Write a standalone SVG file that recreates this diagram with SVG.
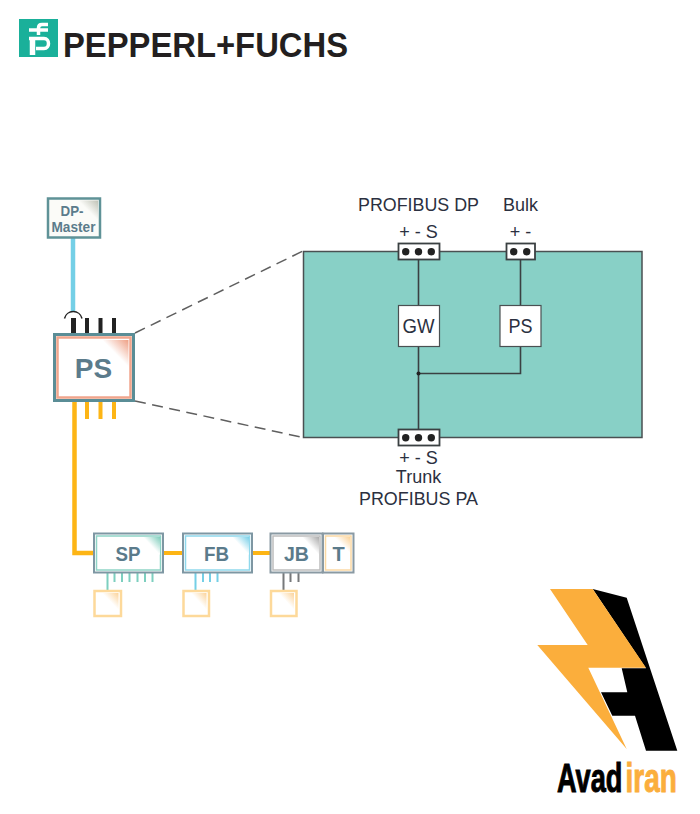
<svg xmlns="http://www.w3.org/2000/svg" width="700" height="814" viewBox="0 0 700 814">
<style>
text{font-family:"Liberation Sans",Arial,sans-serif}
.lbl{font-size:18px;fill:#2b3040;text-anchor:middle}
.blk{font-size:20px;fill:#2b3040;text-anchor:middle}
.nt{font-weight:bold;fill:#5b7b8b;text-anchor:middle}
.w{stroke:#3a4042;stroke-width:1.600;fill:none}
.pin{stroke:#222;stroke-width:4;fill:none}
.pinm{stroke:#222;stroke-width:5;fill:none}
.or{stroke:#fdb515;stroke-width:4;fill:none}
.orm{stroke:#fdb515;stroke-width:4.500;fill:none}
.term{fill:#fff;stroke:#3a4042;stroke-width:1.800}
.dot{fill:#222}
.bx{fill:#fff;stroke:#4a5052;stroke-width:1.200}
.sm{fill:#fff;stroke:#fdd99a;stroke-width:2.500}
</style>
<defs>
<linearGradient id="gP" x1="1" y1="0" x2="0.5" y2="0.5"><stop offset="0" stop-color="#ee9f84"/><stop offset="1" stop-color="#fff"/></linearGradient>
<linearGradient id="gT" x1="1" y1="0" x2="0.5" y2="0.5"><stop offset="0" stop-color="#7fcdbc"/><stop offset="1" stop-color="#fff"/></linearGradient>
<linearGradient id="gB" x1="1" y1="0" x2="0.5" y2="0.5"><stop offset="0" stop-color="#78cfe8"/><stop offset="1" stop-color="#fff"/></linearGradient>
<linearGradient id="gG" x1="1" y1="0" x2="0.5" y2="0.5"><stop offset="0" stop-color="#aaa"/><stop offset="1" stop-color="#fff"/></linearGradient>
<linearGradient id="gY" x1="1" y1="0" x2="0.5" y2="0.5"><stop offset="0" stop-color="#fbd39a"/><stop offset="1" stop-color="#fff"/></linearGradient>
<linearGradient id="gD" x1="1" y1="0" x2="0.5" y2="0.5"><stop offset="0" stop-color="#bfc2b6"/><stop offset="1" stop-color="#fbfbf8"/></linearGradient>
</defs>
<rect width="700" height="814" fill="#fff"/>

<g id="pf-logo">
<rect x="19" y="19" width="39" height="38" fill="#1ab09a"/>
<path d="M48 24.500H42C39.500 24.500 38.500 26 38.500 28V35" fill="none" stroke="#fff" stroke-width="3.500"/>
<path d="M29 30H48" fill="none" stroke="#fff" stroke-width="3.500"/>
<path d="M29 38.500H44C50 38.500 50 48.500 44 48.500H36" fill="none" stroke="#fff" stroke-width="3.500"/>
<path d="M32.500 37V55" fill="none" stroke="#fff" stroke-width="5.500"/>
<text x="63" y="57" font-size="35" font-weight="bold" fill="#231f20" textLength="285" lengthAdjust="spacingAndGlyphs">PEPPERL+FUCHS</text>
</g>

<g id="connectors">
<path d="M73 238V312" stroke="#74cfe6" stroke-width="4.500" fill="none"/>
<path d="M64.500 318.500A9 9 0 0 1 82 318.500" fill="none" stroke="#222" stroke-width="1.500"/>
<path class="pinm" d="M73.500 318V333"/>
<path class="pin" d="M87 318V333M100.500 318V333M114 318V333"/>
<path class="orm" d="M74.500 401V553H93"/>
<path class="or" d="M87 401V419M100.500 401V419M114 401V419"/>
<path class="or" d="M163 553H182M252 553H270"/>
<path d="M107.500 573V590M114.500 573V582M122 573V582M129.500 573V582M137.500 573V582M145 573V582M152.500 573V582" stroke="#7dcfbf" stroke-width="2" fill="none"/>
<path d="M195.500 573V590M203 573V582M210 573V582M217.500 573V582" stroke="#74cfe6" stroke-width="2" fill="none"/>
<path d="M283.500 573V590M290.500 573V582M298.500 573V582" stroke="#77797b" stroke-width="2" fill="none"/>
<path d="M135 333L303 251M135 401L303 437.500" stroke="#5f5f5f" stroke-width="1.500" stroke-dasharray="11 6.500" fill="none"/>
</g>

<g id="dp-master">
<rect x="48" y="198.500" width="52" height="39" fill="#fbfbf8" stroke="#5f9297" stroke-width="2.500"/>
<polygon points="78,200.500 98,200.500 98,220.500" fill="url(#gD)"/>
<text class="nt" font-size="15" x="72" y="216" textLength="23" lengthAdjust="spacingAndGlyphs">DP-</text>
<text class="nt" font-size="15" x="73.500" y="231.500" textLength="44" lengthAdjust="spacingAndGlyphs">Master</text>
</g>

<g id="ps-main">
<rect x="54.500" y="334.500" width="79" height="66" fill="#fff" stroke="#5a8d96" stroke-width="3"/>
<rect x="57.500" y="337.500" width="73" height="60" fill="#fff" stroke="#f0a58c" stroke-width="2.500"/>
<polygon points="102,340 128.500,340 128.500,367" fill="url(#gP)"/>
<text class="nt" font-size="28" x="93.500" y="378">PS</text>
</g>

<g id="sp">
<rect x="94" y="533.500" width="69" height="39" fill="#fff" stroke="#7e97a3" stroke-width="2"/>
<rect x="96.500" y="536" width="64" height="34" fill="#fff" stroke="#8fd4c6" stroke-width="1.500"/>
<polygon points="143,537 160,537 160,555" fill="url(#gT)"/>
<text class="nt" font-size="20" x="128" y="560.500" textLength="25" lengthAdjust="spacingAndGlyphs">SP</text>
</g>
<g id="fb">
<rect x="183" y="533.500" width="69" height="39" fill="#fff" stroke="#7e97a3" stroke-width="2"/>
<rect x="185.500" y="536" width="64" height="34" fill="#fff" stroke="#8fd8ec" stroke-width="1.500"/>
<polygon points="232,537 249,537 249,555" fill="url(#gB)"/>
<text class="nt" font-size="20" x="216.500" y="560.500" textLength="25" lengthAdjust="spacingAndGlyphs">FB</text>
</g>
<g id="jb">
<rect x="270.500" y="533.500" width="52" height="39" fill="#fff" stroke="#8a9aa3" stroke-width="2"/>
<rect x="273" y="536" width="47" height="34" fill="#fff" stroke="#bdbdbd" stroke-width="1.500"/>
<polygon points="302,537 319,537 319,555" fill="url(#gG)"/>
<text class="nt" font-size="20" x="296.500" y="560.500" textLength="25" lengthAdjust="spacingAndGlyphs">JB</text>
</g>
<g id="t">
<rect x="323" y="533.500" width="30.500" height="39" fill="#fff" stroke="#8a9aa3" stroke-width="2"/>
<rect x="325.500" y="536" width="25.500" height="34" fill="#fff" stroke="#fbd9a4" stroke-width="1.500"/>
<polygon points="334,537 350,537 350,553" fill="url(#gY)"/>
<text class="nt" font-size="20" x="338.500" y="560.500">T</text>
</g>
<g id="dev1"><rect class="sm" x="94.500" y="591" width="26.500" height="25"/><polygon points="102,593 118.500,593 118.500,610" fill="url(#gY)"/></g>
<g id="dev2"><rect class="sm" x="183.500" y="591" width="25.500" height="25"/><polygon points="191,593 206.500,593 206.500,610" fill="url(#gY)"/></g>
<g id="dev3"><rect class="sm" x="271" y="591" width="25.500" height="25"/><polygon points="278.500,593 294,593 294,610" fill="url(#gY)"/></g>

<g id="panel"><rect x="303.500" y="251.500" width="338.500" height="186" fill="#88d0c6" stroke="#4a5052" stroke-width="1.500"/></g>
<g id="wires">
<path class="w" d="M418.500 260V429M520.500 260V373.500H418.500"/>
<circle cx="418.500" cy="373.500" r="2" fill="#222"/>
</g>
<g id="gw"><rect class="bx" x="398.500" y="305.500" width="41" height="41"/><text class="blk" x="418.500" y="333" textLength="32" lengthAdjust="spacingAndGlyphs">GW</text></g>
<g id="ps-inner"><rect class="bx" x="500" y="305.500" width="41" height="41"/><text class="blk" x="520.500" y="333" textLength="24" lengthAdjust="spacingAndGlyphs">PS</text></g>

<g id="term-dp">
<rect class="term" x="398.500" y="243.500" width="41" height="16"/>
<circle class="dot" cx="405.700" cy="251.700" r="3.700"/><circle class="dot" cx="418.500" cy="251.700" r="3.700"/><circle class="dot" cx="431.300" cy="251.700" r="3.700"/>
<text class="lbl" x="418.500" y="211" textLength="121" lengthAdjust="spacingAndGlyphs">PROFIBUS DP</text>
<text class="lbl" x="418.500" y="237.500">+ - S</text>
</g>
<g id="term-bulk">
<rect class="term" x="506.500" y="243.500" width="28.500" height="16"/>
<circle class="dot" cx="513.700" cy="251.700" r="3.700"/><circle class="dot" cx="526.700" cy="251.700" r="3.700"/>
<text class="lbl" x="520.500" y="211">Bulk</text>
<text class="lbl" x="520.500" y="237.500">+ -</text>
</g>
<g id="term-pa">
<rect class="term" x="398.500" y="429.500" width="41" height="16"/>
<circle class="dot" cx="405.700" cy="437.700" r="3.700"/><circle class="dot" cx="418.500" cy="437.700" r="3.700"/><circle class="dot" cx="431.300" cy="437.700" r="3.700"/>
<text class="lbl" x="418.500" y="464">+ - S</text>
<text class="lbl" x="418.500" y="483">Trunk</text>
<text class="lbl" x="418.500" y="505" textLength="119" lengthAdjust="spacingAndGlyphs">PROFIBUS PA</text>
</g>

<g id="avadiran-logo">
<polygon points="592.700,589 626.700,597.700 677.300,750.700 646,750.700 635,715.700 612.300,715.700 601,692.300 627.300,692.300 621.700,668.300 646,668.300" fill="#000"/>
<polygon points="550,589 592.700,589 646,667.700 588.300,667.700 626.700,749 537.300,645 587.700,645" fill="#fbae3c"/>
<text transform="translate(557 792) scale(0.68 1)" font-size="40" font-weight="bold" stroke="#000" stroke-width="1" fill="#000">Avad</text>
<text transform="translate(625.500 792) scale(0.7 1)" font-size="40" font-weight="bold" stroke="#fbae3c" stroke-width="1" fill="#fbae3c">iran</text>
</g>
</svg>
